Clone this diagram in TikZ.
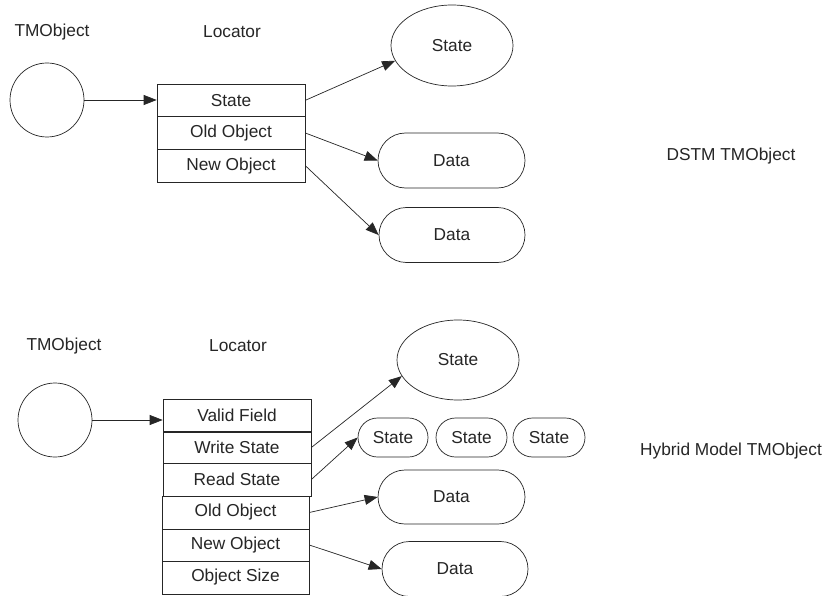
\documentclass[tikz,border=0pt]{standalone}
\usepackage{fontspec}
\setmainfont{Liberation Sans}
\usetikzlibrary{shapes.geometric,shapes.misc,arrows.meta}
\newcommand{\dfont}{\fontsize{17.3}{19}\selectfont}
\tikzset{
  x=1pt,y=-1pt,
  ink/.style={draw=black!85,line width=0.7pt},
  txt/.style={font=\dfont,text=black!85,inner sep=0pt},
  obj/.style={ink,circle,minimum size=74pt,inner sep=0pt},
  row/.style={ink,rectangle,minimum width=148pt,minimum height=32.7pt,inner sep=0pt,font=\dfont,text=black!85},
  stateell/.style={ink,ellipse,minimum width=122pt,minimum height=81pt,inner sep=0pt,font=\dfont,text=black!85},
  pill/.style={ink,rounded rectangle,minimum height=55pt,inner sep=0pt,font=\dfont,text=black!85},
  arr/.style={draw=black!85,line width=0.7pt,-{Triangle[length=13pt,width=10pt]}}
}
\begin{document}
\begin{tikzpicture}
\useasboundingbox[fill=white] (0,0) rectangle (824,596);
% ---------- top: DSTM ----------
\node[txt] (tm1) at (52,32) {TMObject};
\node[txt] (loc1) at (232,32) {Locator};
\node[obj] (c1) at (47,100) {};
\node[row] (a1) at (231,100.3) {State};
\node[row] (a2) at (231,133) {Old Object};
\node[row] (a3) at (231,165.7) {New Object};
\node[stateell] (s1) at (452,45.5) {State};
\node[pill,minimum width=147pt] (d1) at (451.5,160.5) {Data};
\node[pill,minimum width=146pt] (d2) at (452,235) {Data};
\node[txt] (lab1) at (731,156.5) {DSTM TMObject};
\draw[arr] (c1.east) -- (c1.east -| a1.west);
\draw[arr] (a1.east) -- (s1.195);
\draw[arr] (a2.east) -- (d1.west);
\draw[arr] (a3.east) -- (d2.west);
% ---------- bottom: Hybrid ----------
\node[txt] (tm2) at (64,346) {TMObject};
\node[txt] (loc2) at (238,346) {Locator};
\node[obj] (c2) at (55,420) {};
\node[row] (b1) at (237,415.5) {Valid Field};
\node[row,minimum height=31.5pt] (b2) at (237,447.5) {Write State};
\node[row] (b3) at (237,479.5) {Read State};
\node[row,minimum width=147pt] (b4) at (235.5,512.5) {Old Object};
\node[row,minimum width=147pt,minimum height=32pt] (b5) at (235.5,545) {New Object};
\node[row,minimum width=147pt] (b6) at (235.5,577.5) {Object Size};
\node[stateell,minimum height=80pt] (s2) at (458,360) {State};
\node[pill,minimum width=70pt,minimum height=39pt] (t1) at (393,437.5) {State};
\node[pill,minimum width=71pt,minimum height=39pt] (t2) at (471.5,437.5) {State};
\node[pill,minimum width=72pt,minimum height=39pt] (t3) at (549,437.5) {State};
\node[pill,minimum width=147pt,minimum height=54pt] (d3) at (451.5,497) {Data};
\node[pill,minimum width=146pt] (d4) at (455,569) {Data};
\node[txt] (lab2) at (731,451) {Hybrid Model TMObject};
\draw[arr] (c2.east) -- (c2.east -| b1.west);
\draw[arr] (b2.east) -- (s2.196);
\draw[arr] (b3.east) -- (t1.west);
\draw[arr] (b4.east) -- (d3.west);
\draw[arr] (b5.east) -- (d4.west);
\end{tikzpicture}
\end{document}
